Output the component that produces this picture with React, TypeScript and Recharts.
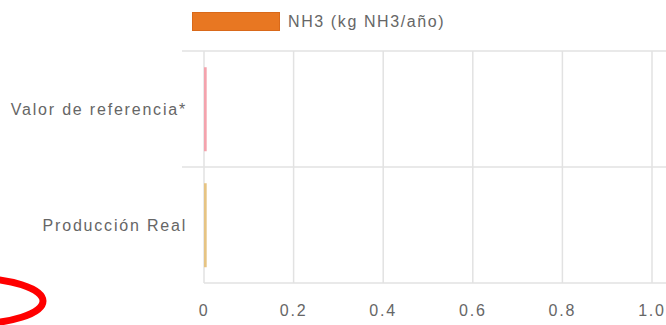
import { BarChart, Bar, XAxis, YAxis, CartesianGrid, Cell } from 'recharts';

// chart values
const CATEGORIES = ['Valor de referencia*', 'Producción Real'];
const NH3_VALUES = [0.006, 0.006];
const X_TICKS = [0, 0.2, 0.4, 0.6, 0.8, 1.0];
const SERIES_NAME = 'NH3 (kg NH3/año)';

const CHART_DATA = CATEGORIES.map((name, i) => ({ name, nh3: NH3_VALUES[i] }));

// styling
const BAR_COLORS = ['#f4a3ad', '#e6c483'];
const LEGEND_COLOR = '#e87722';
const GRID_COLOR = '#e2e2e2';
const TEXT_COLOR = '#666';
const FONT = '"Liberation Sans", Arial, sans-serif';

const tickStyle = { fill: TEXT_COLOR, fontSize: 16, fontFamily: FONT, letterSpacing: 1.8 };

const formatTick = (v: number) => (v === 0 ? '0' : v.toFixed(1));

// band boundaries instead of category centres (chart.js style offset grid)
const upperBandLines = ({ offset }: any) => {
  const step = offset.height / CATEGORIES.length;
  return CATEGORIES.map((_, i) => offset.top + i * step);
};
const bottomBandLine = ({ offset }: any) => [offset.top + offset.height];

export default function App() {
  return (
    <div style={{ position: 'absolute', left: 0, top: 0, width: 666, height: 325, background: '#fff', overflow: 'hidden' }}>
      <BarChart
        width={666}
        height={325}
        data={CHART_DATA}
        layout="vertical"
        margin={{ top: 51, right: 14, bottom: 0, left: 0 }}
        barCategoryGap="14%"
      >
        <CartesianGrid
          vertical={false}
          x={182}
          width={484}
          stroke={GRID_COLOR}
          strokeWidth={1.5}
          horizontalCoordinatesGenerator={upperBandLines}
        />
        <CartesianGrid
          vertical={false}
          x={204}
          width={462}
          stroke={GRID_COLOR}
          strokeWidth={1.5}
          horizontalCoordinatesGenerator={bottomBandLine}
        />
        <CartesianGrid horizontal={false} stroke={GRID_COLOR} strokeWidth={1.5} />
        <XAxis
          type="number"
          domain={[0, 1]}
          ticks={X_TICKS}
          tickFormatter={formatTick}
          axisLine={false}
          tickLine={false}
          tickSize={6}
          tickMargin={16}
          height={42}
          tick={tickStyle}
        />
        <YAxis
          type="category"
          dataKey="name"
          width={204}
          axisLine={false}
          tickLine={false}
          tickSize={6}
          tickMargin={11}
          tick={tickStyle}
        />
        <Bar dataKey="nh3" name={SERIES_NAME} isAnimationActive={false}>
          {CHART_DATA.map((d, i) => (
            <Cell key={d.name} fill={BAR_COLORS[i]} />
          ))}
        </Bar>
      </BarChart>

      <div
        style={{
          position: 'absolute',
          left: 192,
          top: 12,
          display: 'flex',
          alignItems: 'center',
          fontFamily: FONT,
          fontSize: 16,
          letterSpacing: 1.6,
          color: TEXT_COLOR,
        }}
      >
        <span style={{ display: 'inline-block', width: 86, height: 17, background: LEGEND_COLOR, border: '1px solid #d9691a', marginRight: 8 }} />
        <span>{SERIES_NAME}</span>
      </div>

      <svg width={666} height={325} style={{ position: 'absolute', left: 0, top: 0, pointerEvents: 'none' }}>
        <ellipse cx={-30} cy={301} rx={73} ry={23} fill="none" stroke="#ff0000" strokeWidth={7} />
      </svg>
    </div>
  );
}
